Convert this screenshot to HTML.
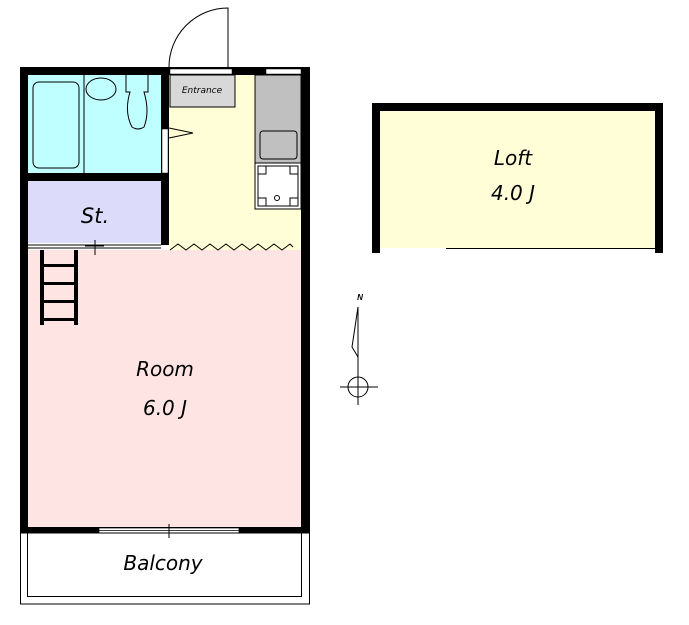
<!DOCTYPE html><html><head><style>body{margin:0;background:#fff}</style></head><body>
<svg width="689" height="620" xmlns="http://www.w3.org/2000/svg" font-family="'Comic Sans MS','DejaVu Sans',sans-serif">
<rect x="28" y="75" width="133" height="98" fill="#bfffff"/>
<rect x="28" y="181" width="133" height="62" fill="#dcdcfa"/>
<rect x="169" y="75" width="132" height="175" fill="#fffed6"/>
<rect x="28" y="250" width="273" height="277" fill="#ffe4e4"/>
<rect x="170" y="75" width="65" height="32" fill="#d8d8d8" stroke="#000"/>
<text x="202" y="93" font-size="9" text-anchor="middle" font-style="italic">Entrance</text>
<rect x="255" y="75" width="46" height="88" fill="#c0c0c0" stroke="#000"/>
<rect x="260" y="131" width="37" height="28" rx="3" fill="none" stroke="#000"/>
<rect x="255" y="163" width="46" height="46" fill="#fff" stroke="#000"/>
<rect x="258" y="166" width="40" height="40" fill="none" stroke="#000"/>
<g fill="none" stroke="#000"><rect x="258" y="166" width="8" height="8"/><rect x="290" y="166" width="8" height="8"/><rect x="258" y="198" width="8" height="8"/><rect x="290" y="198" width="8" height="8"/></g>
<circle cx="277" cy="198" r="2.5" fill="none" stroke="#000"/>
<rect x="33" y="82" width="46" height="86" rx="6" fill="none" stroke="#000"/>
<line x1="84" y1="75" x2="84" y2="173" stroke="#000"/>
<ellipse cx="101" cy="89" rx="15" ry="11" fill="none" stroke="#000"/>
<path d="M126 75 v17 h4 q-6 20 2 35 q6 4 12 0 q6-15 0-35 h4 v-17" fill="none" stroke="#000"/>
<g fill="#000">
<rect x="20" y="67" width="290" height="8"/>
<rect x="20" y="67" width="8" height="466"/>
<rect x="301" y="67" width="9" height="466"/>
<rect x="20" y="527" width="290" height="6"/>
<rect x="161" y="75" width="8" height="170"/>
<rect x="28" y="173" width="133" height="8"/>
</g>
<rect x="170" y="69" width="62" height="5" fill="#fff" stroke="#000" stroke-width="0.5"/>
<rect x="266" y="69" width="35" height="5" fill="#fff" stroke="#000" stroke-width="0.5"/>
<rect x="162" y="129" width="6" height="44" fill="#fff" stroke="#000" stroke-width="0.5"/>
<path d="M169 128 L193 133 L169 138" fill="none" stroke="#000"/>
<path d="M228 67 V8 A59 59 0 0 0 169 67" fill="none" stroke="#000"/>
<line x1="28" y1="245" x2="161" y2="245" stroke="#000"/>
<line x1="28" y1="248" x2="161" y2="248" stroke="#000"/>
<line x1="95" y1="240" x2="95" y2="255" stroke="#000"/>
<line x1="85" y1="246" x2="104" y2="246" stroke="#000"/>
<path d="M170 250 l8 -6 l8 6 l8 -6 l8 6 l8 -6 l8 6 l8 -6 l8 6 l8 -6 l8 6 l8 -6 l8 6 l8 -6 l8 6 l8 -6 l3 3" fill="none" stroke="#000"/>
<rect x="99" y="528" width="140" height="5" fill="#fff" stroke="#000" stroke-width="0.7"/>
<line x1="99" y1="530.5" x2="239" y2="530.5" stroke="#000" stroke-width="0.7"/>
<line x1="169" y1="524" x2="169" y2="538" stroke="#000"/>
<g fill="#000"><rect x="40" y="250" width="4" height="75"/><rect x="74" y="250" width="4" height="75"/>
<rect x="40" y="264" width="38" height="3"/><rect x="40" y="282" width="38" height="3"/><rect x="40" y="300" width="38" height="3"/><rect x="40" y="318" width="38" height="3"/></g>
<rect x="20.5" y="533" width="289" height="71" fill="none" stroke="#000"/>
<path d="M27.5 533 V596.5 H301.5 V533" fill="none" stroke="#000"/>
<rect x="380" y="111" width="275" height="137" fill="#fffed6"/>
<g fill="#000"><rect x="372" y="103" width="291" height="8"/><rect x="372" y="103" width="8" height="150"/><rect x="655" y="103" width="8" height="150"/></g>
<line x1="446" y1="248.5" x2="655" y2="248.5" stroke="#000"/>
<g font-style="italic" font-size="21" text-anchor="middle">
<text x="95" y="223">St.</text>
<text x="165" y="376" font-size="20">Room</text>
<text x="165" y="415" font-size="20">6.0 J</text>
<text x="163" y="570" font-size="20">Balcony</text>
<text x="513" y="165" font-size="20">Loft</text>
<text x="513" y="200" font-size="20">4.0 J</text>
</g>
<text x="360" y="300" font-size="8" font-weight="bold" text-anchor="middle" font-family="'Liberation Sans',sans-serif" font-style="italic">N</text>
<path d="M358 307 L352 347 L358 357 M358 307 V405" fill="none" stroke="#000"/>
<circle cx="358" cy="387" r="10" fill="none" stroke="#000"/>
<line x1="340" y1="387" x2="378" y2="387" stroke="#000"/>
</svg></body></html>
